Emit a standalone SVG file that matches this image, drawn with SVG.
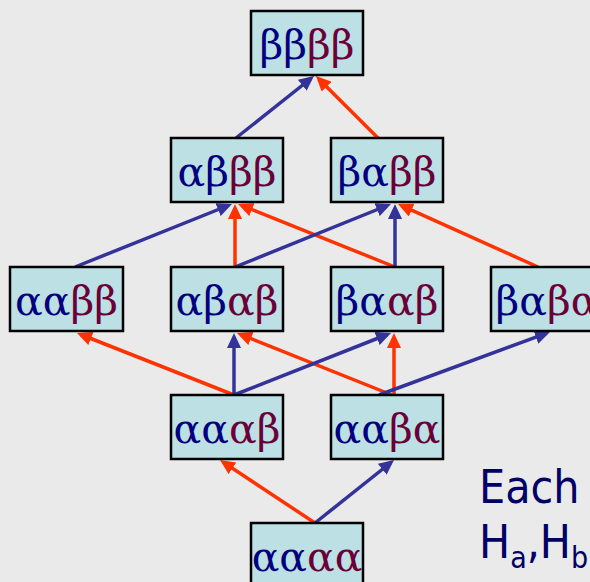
<svg xmlns="http://www.w3.org/2000/svg" width="590" height="582" viewBox="0 0 590 582">
<style>
.box{fill:#bce0e3;stroke:#000;stroke-width:2.5}
.lbl{font-family:"DejaVu Serif","Liberation Serif",serif;font-size:41px;text-anchor:middle}
.a{fill:#000080}
.b{fill:#6b0038}
.blue{stroke:#333399;stroke-width:3.5;fill:none}
.red{stroke:#ff3300;stroke-width:3.5;fill:none}
.note{font-family:"DejaVu Sans Condensed","DejaVu Sans",sans-serif;font-stretch:condensed;font-size:46px;fill:#000066}
</style>
<defs>
<marker id="ab" markerUnits="userSpaceOnUse" markerWidth="16" markerHeight="14" refX="11" refY="7" orient="auto"><path d="M0,0 L15,7 L0,14 z" fill="#333399"/></marker>
<marker id="ar" markerUnits="userSpaceOnUse" markerWidth="16" markerHeight="14" refX="11" refY="7" orient="auto"><path d="M0,0 L15,7 L0,14 z" fill="#ff3300"/></marker>
</defs>
<rect width="590" height="582" fill="#eaeaea"/>
<g id="connectors">
<line class="blue" x1="236" y1="138" x2="310.9" y2="78.5" marker-end="url(#ab)"/>
<line class="red" x1="378" y1="138" x2="318.8" y2="78.9" marker-end="url(#ar)"/>
<line class="blue" x1="75" y1="267" x2="228.3" y2="205.5" marker-end="url(#ab)"/>
<line class="red" x1="235" y1="267" x2="235" y2="208" marker-end="url(#ar)"/>
<line class="red" x1="395" y1="267" x2="241.7" y2="205.5" marker-end="url(#ar)"/>
<line class="blue" x1="235" y1="267" x2="387.3" y2="205.5" marker-end="url(#ab)"/>
<line class="blue" x1="395" y1="267" x2="395" y2="208" marker-end="url(#ab)"/>
<line class="red" x1="538" y1="267" x2="401.6" y2="205.6" marker-end="url(#ar)"/>
<line class="red" x1="234" y1="395" x2="80.7" y2="334.5" marker-end="url(#ar)"/>
<line class="blue" x1="234" y1="395" x2="234" y2="337" marker-end="url(#ab)"/>
<line class="red" x1="392" y1="395" x2="240.7" y2="334.5" marker-end="url(#ar)"/>
<line class="blue" x1="234" y1="395" x2="387.3" y2="334.5" marker-end="url(#ab)"/>
<line class="red" x1="394" y1="395" x2="394" y2="337" marker-end="url(#ar)"/>
<line class="blue" x1="379" y1="395" x2="546.2" y2="333.4" marker-end="url(#ab)"/>
<line class="red" x1="315" y1="523" x2="223.3" y2="462.2" marker-end="url(#ar)"/>
<line class="blue" x1="315" y1="523" x2="390.9" y2="462.5" marker-end="url(#ab)"/>
</g>
<g id="n-bbbb"><rect class="box" x="251" y="11" width="112" height="64"/><text class="lbl" x="307" y="59"><tspan class="a">ββ</tspan><tspan class="b">ββ</tspan></text></g>
<g id="n-abbb"><rect class="box" x="171" y="138" width="112" height="64"/><text class="lbl" x="227" y="186"><tspan class="a">αβ</tspan><tspan class="b">ββ</tspan></text></g>
<g id="n-babb"><rect class="box" x="331" y="138" width="112" height="64"/><text class="lbl" x="387" y="186"><tspan class="a">βα</tspan><tspan class="b">ββ</tspan></text></g>
<g id="n-aabb"><rect class="box" x="10" y="267" width="113" height="64"/><text class="lbl" x="66.5" y="315"><tspan class="a">αα</tspan><tspan class="b">ββ</tspan></text></g>
<g id="n-abab"><rect class="box" x="171" y="267" width="112" height="64"/><text class="lbl" x="227" y="315"><tspan class="a">αβ</tspan><tspan class="b">αβ</tspan></text></g>
<g id="n-baab"><rect class="box" x="331" y="267" width="112" height="64"/><text class="lbl" x="387" y="315"><tspan class="a">βα</tspan><tspan class="b">αβ</tspan></text></g>
<g id="n-baba"><rect class="box" x="491" y="267" width="112" height="64"/><text class="lbl" x="547" y="315"><tspan class="a">βα</tspan><tspan class="b">βα</tspan></text></g>
<g id="n-aaab"><rect class="box" x="171" y="395" width="112" height="64"/><text class="lbl" x="227" y="443"><tspan class="a">αα</tspan><tspan class="b">αβ</tspan></text></g>
<g id="n-aaba"><rect class="box" x="331" y="395" width="112" height="64"/><text class="lbl" x="387" y="443"><tspan class="a">αα</tspan><tspan class="b">βα</tspan></text></g>
<g id="n-aaaa"><rect class="box" x="251" y="523" width="112" height="64"/><text class="lbl" x="307" y="571"><tspan class="a">αα</tspan><tspan class="b">αα</tspan></text></g>
<g id="note">
<text class="note" x="479" y="503">Each</text>
<text class="note" x="479" y="558">H<tspan font-size="30" dy="10">a</tspan><tspan dy="-10">,H</tspan><tspan font-size="30" dy="10">b</tspan></text>
</g>
</svg>
